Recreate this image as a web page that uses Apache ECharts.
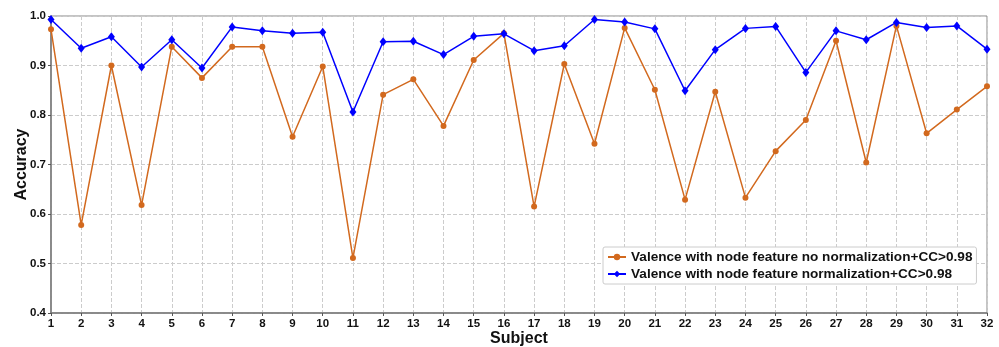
<!DOCTYPE html>
<html>
<head>
<meta charset="utf-8">
<script src="https://cdn.jsdelivr.net/npm/echarts@6/dist/echarts.min.js"></script>
<style>html,body{margin:0;padding:0;background:#fff;}#c{width:999px;height:347px;}</style>
</head>
<body>
<div id="c"></div>
<script>
const subjects = ['1','2','3','4','5','6','7','8','9','10','11','12','13','14','15','16','17','18','19','20','21','22','23','24','25','26','27','28','29','30','31','32'];
const noNorm = [0.973,0.578,0.900,0.618,0.938,0.875,0.938,0.938,0.756,0.898,0.511,0.841,0.872,0.778,0.911,0.965,0.615,0.903,0.742,0.976,0.851,0.629,0.847,0.633,0.727,0.790,0.950,0.704,0.980,0.763,0.811,0.858];
const withNorm = [0.993,0.935,0.958,0.897,0.952,0.895,0.978,0.970,0.965,0.967,0.806,0.948,0.949,0.922,0.959,0.964,0.930,0.940,0.993,0.988,0.974,0.849,0.932,0.975,0.979,0.886,0.970,0.952,0.987,0.977,0.980,0.933];
const seriesNames = ['Valence with node feature no normalization+CC>0.98','Valence with node feature normalization+CC>0.98'];
const yTicks = [0.4,0.5,0.6,0.7,0.8,0.9,1.0];

const chart = echarts.init(document.getElementById('c'), null, {renderer:'canvas'});
const font = 'Liberation Sans, Arial, sans-serif';
chart.setOption({
  animation:false,
  backgroundColor:'#fff',
  grid:{left:51,right:12,top:16,bottom:34,show:true,borderColor:'#888',borderWidth:1,containLabel:false,outerBoundsMode:'none'},
  legend:{
    orient:'vertical', left:603, top:247,
    backgroundColor:'#fff', borderColor:'#ccc', borderWidth:1, borderRadius:2,
    padding:[3,4,3,4], itemGap:3, itemWidth:18, itemHeight:8,
    textStyle:{fontFamily:font,fontWeight:'bold',fontSize:13.6,color:'#111'},
    data:seriesNames
  },
  xAxis:{
    type:'category', data:subjects, boundaryGap:false,
    name:'Subject', nameLocation:'middle', nameGap:18, nameMoveOverlap:false,
    nameTextStyle:{fontFamily:font,fontWeight:'bold',fontSize:16,color:'#111'},
    axisLine:{lineStyle:{color:'#777',width:1.5}},
    axisTick:{show:true,length:3,lineStyle:{color:'#555'}},
    axisLabel:{fontFamily:font,fontWeight:'bold',fontSize:11.5,color:'#111',margin:5,interval:0},
    splitLine:{show:true,lineStyle:{color:'#ccc',type:'dashed',width:1}}
  },
  yAxis:{
    type:'value', min:0.4, max:1.0, interval:0.1,
    name:'Accuracy', nameLocation:'middle', nameGap:21, nameMoveOverlap:false,
    nameTextStyle:{fontFamily:font,fontWeight:'bold',fontSize:16,color:'#111'},
    axisLine:{show:true,lineStyle:{color:'#777',width:1.5}},
    axisTick:{show:true,length:3,lineStyle:{color:'#555'}},
    axisLabel:{fontFamily:font,fontWeight:'bold',fontSize:11.5,color:'#111',margin:5,
      formatter:v=>v.toFixed(1)},
    splitLine:{show:true,lineStyle:{color:'#ccc',type:'dashed',width:1}}
  },
  series:[
    {name:seriesNames[0],type:'line',data:noNorm,symbol:'circle',symbolSize:6,
     itemStyle:{color:'#D2691E'},lineStyle:{color:'#D2691E',width:1.5}},
    {name:seriesNames[1],type:'line',data:withNorm,symbol:'diamond',symbolSize:[7,9],
     itemStyle:{color:'#0000FF'},lineStyle:{color:'#0000FF',width:1.5}}
  ]
});
</script>
</body>
</html>
